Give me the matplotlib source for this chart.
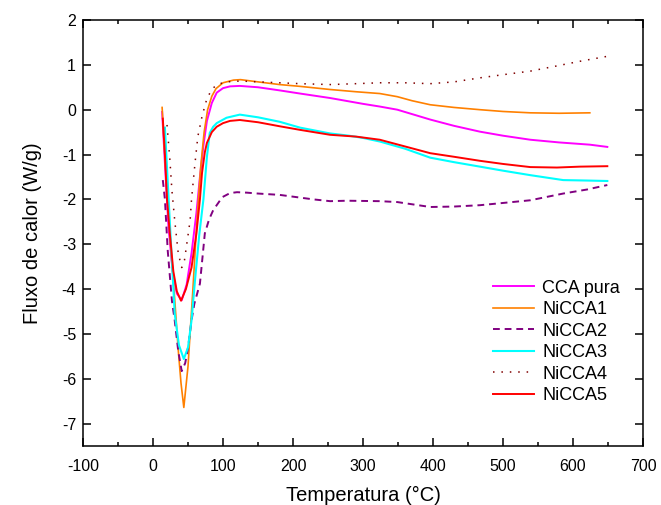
import numpy as np
import matplotlib
matplotlib.use("Agg")
import matplotlib.pyplot as plt
from matplotlib.ticker import MultipleLocator

plt.rcParams['font.family'] = ['Liberation Sans', 'DejaVu Sans']
plt.rcParams['axes.unicode_minus'] = False

# CCA pura (magenta)
cca_x = [13, 17, 22, 28, 34, 41, 48, 55, 62, 67, 72, 77, 84, 91, 100, 110, 124,
         150, 181, 210, 253, 300, 324, 349, 396, 430, 467, 500, 539, 580, 624, 649]
cca_y = [-0.05, -1.2, -2.6, -3.6, -4.1, -4.25, -3.9, -3.2, -2.3, -1.5, -0.8, -0.25, 0.15, 0.38, 0.48, 0.52, 0.53,
         0.5, 0.43, 0.36, 0.26, 0.13, 0.07, 0.0, -0.22, -0.36, -0.49, -0.58, -0.67, -0.73, -0.78, -0.83]

# NiCCA1 (orange)
n1_x = [13, 16, 20, 25, 31, 36, 40, 44, 50, 57, 63, 68, 73, 78, 84, 90, 100, 115, 125,
        150, 181, 210, 253, 290, 324, 349, 370, 396, 430, 467, 500, 539, 580, 624]
n1_y = [0.05, -0.8, -1.8, -3.0, -4.23, -5.35, -6.1, -6.64, -5.72, -4.0, -2.4, -1.3, -0.5, 0.0, 0.3, 0.47, 0.6, 0.66, 0.67,
        0.62, 0.56, 0.52, 0.45, 0.4, 0.36, 0.29, 0.2, 0.11, 0.05, 0.0, -0.04, -0.07, -0.08, -0.07]

# NiCCA2 (purple, dashed)
n2_x = [14, 17, 21, 27, 31, 36, 41, 46, 50, 55, 59, 67, 74, 80, 86, 99, 110, 120, 134,
        150, 181, 229, 253, 277, 324, 349, 396, 430, 467, 500, 539, 586, 620, 649]
n2_y = [-1.57, -2.0, -3.14, -4.26, -4.7, -5.38, -5.83, -5.65, -5.31, -4.7, -4.33, -3.88, -2.76, -2.45, -2.24, -1.95, -1.86, -1.84, -1.85,
        -1.87, -1.9, -2.0, -2.04, -2.03, -2.04, -2.06, -2.17, -2.16, -2.13, -2.08, -2.02, -1.87, -1.78, -1.68]

# NiCCA3 (cyan)
n3_x = [17, 21, 25, 31, 37, 44, 50, 55, 60, 66, 72, 77, 81, 86, 91, 105, 124,
        150, 181, 210, 253, 280, 300, 324, 360, 396, 430, 467, 500, 539, 586, 620, 649]
n3_y = [-0.4, -1.6, -2.8, -4.55, -5.25, -5.56, -5.3, -4.7, -3.8, -2.8, -2.0, -1.05, -0.52, -0.38, -0.3, -0.18, -0.11,
        -0.17, -0.27, -0.4, -0.53, -0.58, -0.63, -0.71, -0.87, -1.07, -1.17, -1.27, -1.36, -1.46, -1.57, -1.58, -1.59]

# NiCCA4 (dark red, dotted)
n4_x = [20, 24, 27, 31, 36, 41, 45, 49, 53, 55, 60, 64, 70, 77, 84, 91, 105, 125,
        150, 181, 210, 253, 290, 324, 360, 396, 430, 467, 500, 539, 575, 610, 649]
n4_y = [-0.34, -1.1, -1.8, -2.47, -3.2, -3.52, -3.35, -2.91, -2.47, -2.0, -1.19, -0.6, -0.15, 0.25, 0.45, 0.56, 0.62, 0.64,
        0.62, 0.6, 0.58, 0.56, 0.58, 0.6, 0.6, 0.58, 0.62, 0.71, 0.78, 0.86, 0.97, 1.08, 1.19]

# NiCCA5 (red)
n5_x = [14, 17, 20, 24, 29, 34, 40, 47, 55, 62, 67, 70, 74, 77, 84, 91, 100, 110, 124,
        150, 181, 210, 253, 290, 324, 360, 396, 430, 467, 500, 539, 577, 610, 649]
n5_y = [-0.2, -1.0, -2.0, -2.76, -3.6, -4.05, -4.26, -4.0, -3.52, -2.76, -2.0, -1.41, -0.95, -0.74, -0.5, -0.38, -0.3, -0.25, -0.23,
        -0.28, -0.37, -0.45, -0.56, -0.6, -0.67, -0.82, -0.97, -1.05, -1.14, -1.21, -1.28, -1.29, -1.27, -1.26]

fig = plt.figure(figsize=(6.61, 5.05), dpi=100)
ax = fig.add_axes([0.1256, 0.1168, 0.8472, 0.8436])

ax.plot(cca_x, cca_y, color='#FF00FF', lw=1.4, label='CCA pura')
ax.plot(n1_x, n1_y, color='#FF8000', lw=1.2, label='NiCCA1')
ax.plot(n2_x, n2_y, color='#800080', lw=1.4, dashes=(3.5, 2.5), label='NiCCA2')
ax.plot(n3_x, n3_y, color='#00FFFF', lw=1.5, label='NiCCA3')
ax.plot(n4_x, n4_y, color='#800000', lw=1.1, dashes=(1, 4.5), label='NiCCA4')
ax.plot(n5_x, n5_y, color='#FF0000', lw=1.4, label='NiCCA5')

ax.set_xlim(-100, 700)
ax.set_ylim(-7.5, 2)
ax.xaxis.set_major_locator(MultipleLocator(100))
ax.xaxis.set_minor_locator(MultipleLocator(50))
ax.yaxis.set_major_locator(MultipleLocator(1))
ax.tick_params(which='both', direction='in', top=True, right=True, labelsize=11.5, width=1.1)
ax.tick_params(which='major', length=6)
ax.tick_params(which='minor', length=3)
ax.tick_params(axis='x', which='major', pad=9)
ax.tick_params(axis='y', which='major', pad=5)
for sp in ax.spines.values():
    sp.set_linewidth(1.1)

ax.set_xlabel('Temperatura (°C)', fontsize=14.5, labelpad=9)
ax.set_ylabel('Fluxo de calor (W/g)', fontsize=14.5, labelpad=14)

ax.legend(loc='lower right', bbox_to_anchor=(0.985, 0.064), frameon=False, fontsize=13,
          handlelength=2.3, handletextpad=0.45, labelspacing=0.25, borderpad=0.3)

fig.savefig('out.png', dpi=100)
